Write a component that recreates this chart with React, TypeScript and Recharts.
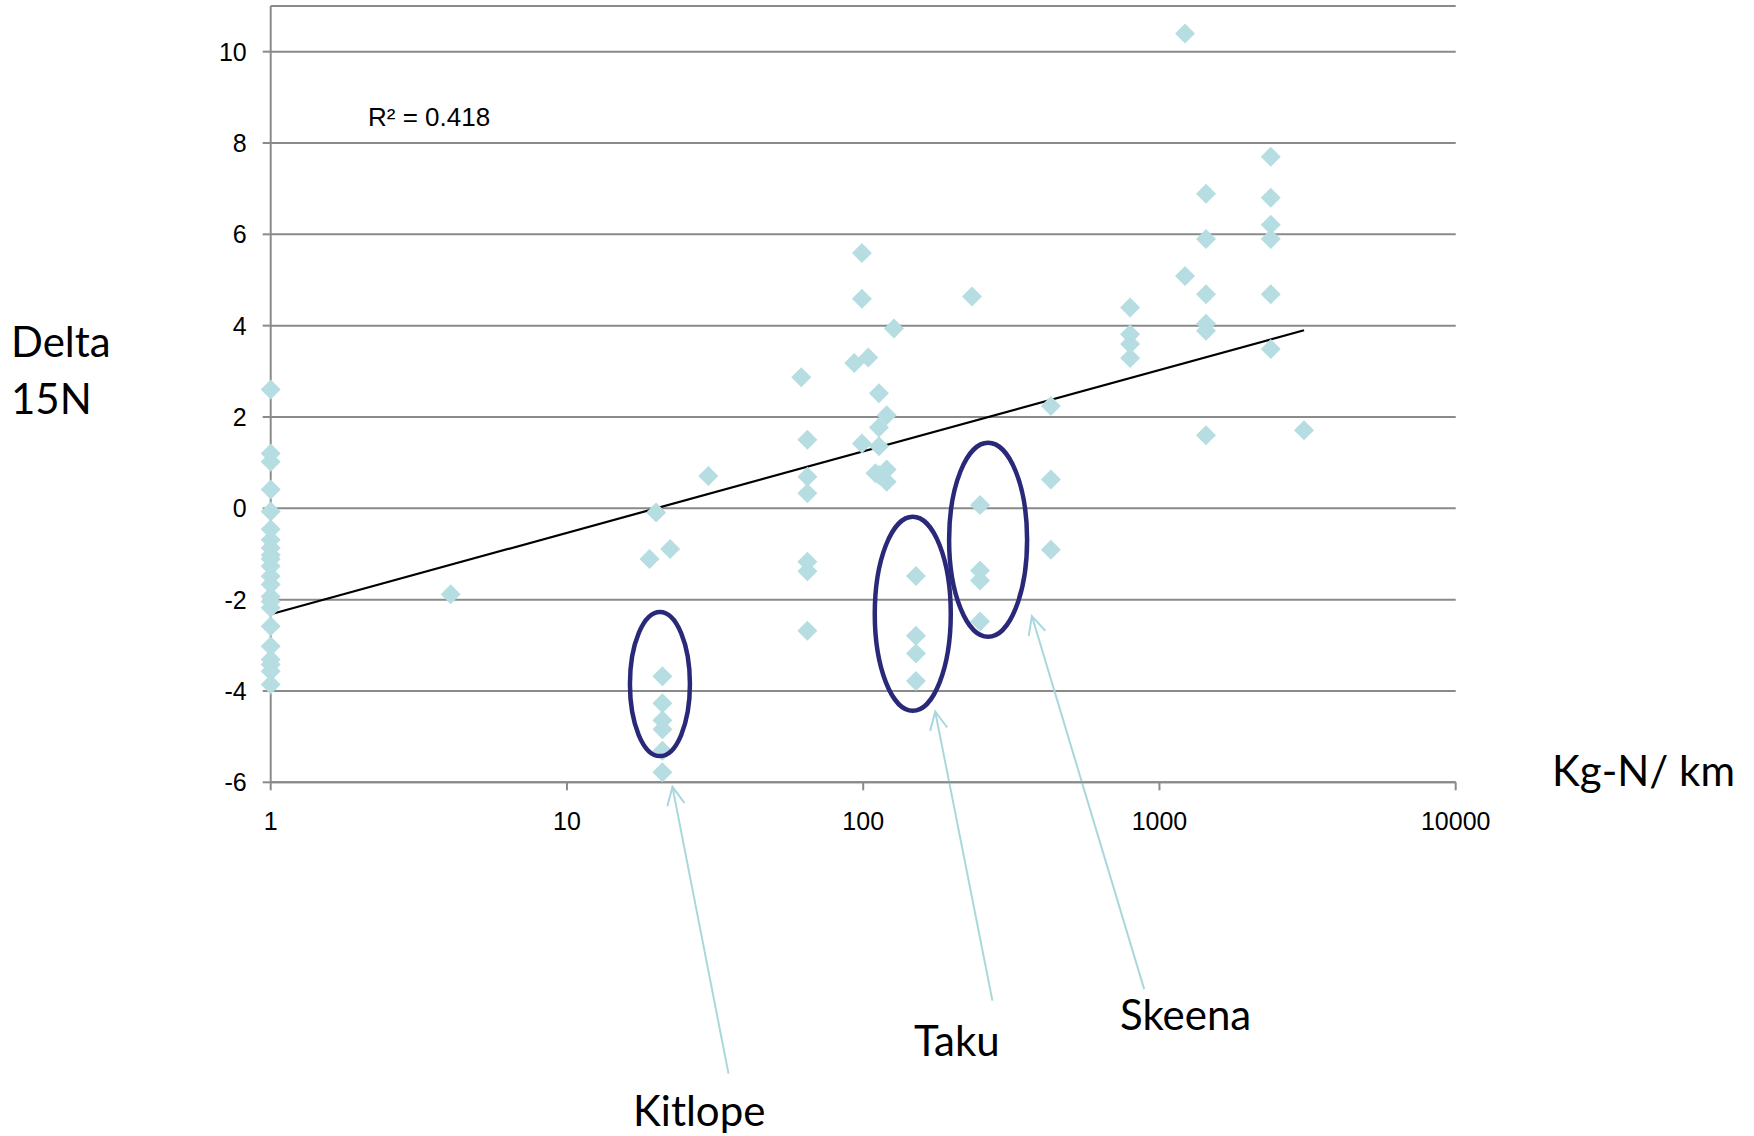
import React from "react";
import {
  ScatterChart,
  Scatter,
  XAxis,
  YAxis,
  CartesianGrid,
  ReferenceLine,
} from "recharts";

// Kg-N/km (x) and delta 15N (y)
const pristineY = [
  2.6, 1.2, 1.02, 0.41, -0.07, -0.46, -0.69, -0.87, -1.02, -1.11, -1.27, -1.49,
  -1.67, -1.93, -2.04, -2.18, -2.58, -3.02, -3.31, -3.42, -3.57, -3.86,
];

const otherSites = [
  { x: 4.05, y: -1.88 },
  { x: 19.0, y: -1.11 },
  { x: 20.0, y: -0.09 },
  { x: 22.3, y: -0.89 },
  { x: 30.0, y: 0.71 },
  { x: 61.8, y: 2.87 },
  { x: 64.8, y: 1.5 },
  { x: 64.8, y: 0.69 },
  { x: 64.8, y: 0.33 },
  { x: 64.8, y: -1.17 },
  { x: 64.8, y: -1.38 },
  { x: 64.8, y: -2.68 },
  { x: 93.3, y: 3.18 },
  { x: 99, y: 5.59 },
  { x: 99, y: 4.59 },
  { x: 99, y: 1.42 },
  { x: 104, y: 3.3 },
  { x: 110, y: 0.77 },
  { x: 113, y: 2.52 },
  { x: 113, y: 1.77 },
  { x: 113, y: 1.36 },
  { x: 113, y: 0.73 },
  { x: 120, y: 2.04 },
  { x: 120, y: 0.85 },
  { x: 120, y: 0.58 },
  { x: 127, y: 3.94 },
  { x: 233, y: 4.64 },
  { x: 430, y: 2.24 },
  { x: 430, y: 0.63 },
  { x: 430, y: -0.91 },
  { x: 796, y: 4.4 },
  { x: 796, y: 3.81 },
  { x: 796, y: 3.6 },
  { x: 796, y: 3.29 },
  { x: 1220, y: 10.4 },
  { x: 1220, y: 5.09 },
  { x: 1436, y: 6.89 },
  { x: 1436, y: 5.9 },
  { x: 1436, y: 4.69 },
  { x: 1436, y: 4.04 },
  { x: 1436, y: 3.89 },
  { x: 1436, y: 1.6 },
  { x: 2375, y: 7.7 },
  { x: 2375, y: 6.8 },
  { x: 2375, y: 6.21 },
  { x: 2375, y: 5.9 },
  { x: 2375, y: 4.69 },
  { x: 2375, y: 3.49 },
  { x: 3076, y: 1.71 },
];

const kitlopeY = [-3.68, -4.27, -4.64, -4.84, -5.31, -5.78];
const takuY = [-1.48, -2.79, -3.18, -3.78];
const skeenaY = [0.07, -1.36, -1.58, -2.48];

// log trend line end points
const trend = [
  { x: 1, y: -2.32 },
  { x: 3076, y: 3.9 },
];

const circled = [
  { name: "Kitlope", x: 20.6, y: -3.85 },
  { name: "Taku", x: 147, y: -2.31 },
  { name: "Skeena", x: 264, y: -0.69 },
];

// arrows from label (tail) to circle (tip)
const arrows = [
  { name: "Kitlope", tail: { x: 35.1, y: -12.38 }, tip: { x: 22.7, y: -6.1 } },
  { name: "Taku", tail: { x: 273, y: -10.78 }, tip: { x: 175, y: -4.45 } },
  { name: "Skeena", tail: { x: 888, y: -10.53 }, tip: { x: 371, y: -2.36 } },
];

const xTicks = [1, 10, 100, 1000, 10000];
const yTicks = [-6, -4, -2, 0, 2, 4, 6, 8, 10];

const points = [
  ...pristineY.map((y) => ({ x: 1, y })),
  ...otherSites,
  ...kitlopeY.map((y) => ({ x: 21.0, y })),
  ...takuY.map((y) => ({ x: 150.7, y })),
  ...skeenaY.map((y) => ({ x: 248, y })),
];

const ellipseSize: Record<string, [number, number]> = {
  Kitlope: [30, 72],
  Taku: [38, 97],
  Skeena: [39, 97],
};

const POINT = "#b6dde1";
const GRID = "#8a8a8a";
const NAVY = "#2a2878";
const ARROW = "#a9d8dc";
const LABEL_FONT = "Lato, 'Open Sans', sans-serif";
const TICK_FONT = "'Liberation Sans', Arial, sans-serif";

const Diamond = (props: any) => {
  const { cx, cy } = props;
  if (cx == null || cy == null) return <g />;
  const r = 10;
  return (
    <polygon
      points={`${cx},${cy - r} ${cx + r},${cy} ${cx},${cy + r} ${cx - r},${cy}`}
      fill={POINT}
    />
  );
};

const Ellipse = (props: any) => {
  const { cx, cy, payload } = props;
  const [rx, ry] = ellipseSize[payload.name];
  return (
    <ellipse cx={cx} cy={cy} rx={rx} ry={ry} fill="none" stroke={NAVY} strokeWidth={4.5} />
  );
};

const Arrow = (props: any) => {
  const { x1, y1, x2, y2 } = props;
  const ang = Math.atan2(y2 - y1, x2 - x1);
  const len = 20;
  const spread = 0.45;
  const ax = x2 - len * Math.cos(ang - spread);
  const ay = y2 - len * Math.sin(ang - spread);
  const bx = x2 - len * Math.cos(ang + spread);
  const by = y2 - len * Math.sin(ang + spread);
  return (
    <g stroke={ARROW} strokeWidth={2} fill="none">
      <line x1={x1} y1={y1} x2={x2} y2={y2} />
      <polyline points={`${ax},${ay} ${x2},${y2} ${bx},${by}`} />
    </g>
  );
};

const Empty = () => <g />;

export default function App() {
  return (
    <div style={{ position: "absolute", left: 0, top: 0, width: 1754, height: 1136, background: "#fff" }}>
      <ScatterChart
        width={1754}
        height={1136}
        margin={{ top: 6, right: 298.3, bottom: 313.7, left: 210.7 }}
      >
        <CartesianGrid vertical={false} stroke={GRID} strokeWidth={2} />
        <XAxis
          dataKey="x"
          type="number"
          scale="log"
          domain={[1, 10000]}
          ticks={xTicks}
          interval={0}
          height={40}
          tickSize={8}
          tickMargin={22}
          axisLine={{ stroke: GRID, strokeWidth: 2 }}
          tickLine={{ stroke: GRID, strokeWidth: 2 }}
          tick={{ fill: "#000", fontSize: 25, fontFamily: TICK_FONT }}
        />
        <YAxis
          dataKey="y"
          type="number"
          domain={[-6, 11]}
          ticks={yTicks}
          interval={0}
          width={60}
          tickSize={8}
          tickMargin={16}
          axisLine={{ stroke: GRID, strokeWidth: 2 }}
          tickLine={{ stroke: GRID, strokeWidth: 2 }}
          tick={{ fill: "#000", fontSize: 25, fontFamily: TICK_FONT }}
        />
        <Scatter
          data={trend}
          line={{ stroke: "#000", strokeWidth: 2.2 }}
          shape={Empty}
          isAnimationActive={false}
        />
        <Scatter data={points} shape={Diamond} isAnimationActive={false} />
        <Scatter data={circled} shape={Ellipse} isAnimationActive={false} />
        {arrows.map((a) => (
          <ReferenceLine
            key={a.name}
            segment={[a.tail, a.tip]}
            ifOverflow="visible"
            shape={Arrow}
          />
        ))}
      </ScatterChart>
      <svg
        width={1754}
        height={1136}
        style={{ position: "absolute", left: 0, top: 0, pointerEvents: "none" }}
      >
        <text x={368} y={126} fontSize={26} fontFamily={TICK_FONT}>
          R² = 0.418
        </text>
        <g fontFamily={LABEL_FONT} fontSize={42} fill="#000">
          <text x={11} y={357}>Delta</text>
          <text x={11} y={414}>15N</text>
          <text x={1552} y={786}>Kg-N/ km</text>
          <text x={914} y={1056}>Taku</text>
          <text x={1120} y={1030}>Skeena</text>
          <text x={633} y={1126}>Kitlope</text>
        </g>
      </svg>
    </div>
  );
}
